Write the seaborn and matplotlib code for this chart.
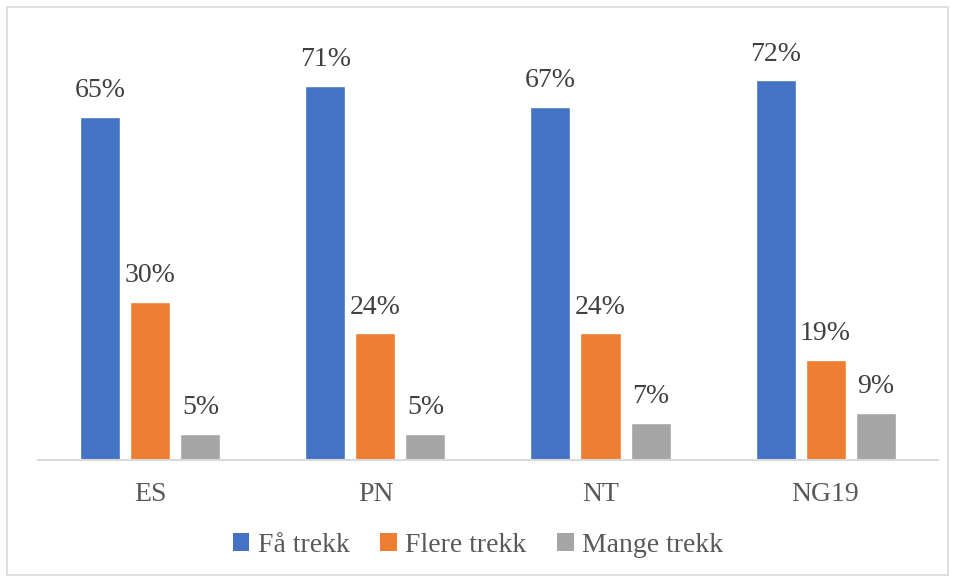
import matplotlib
matplotlib.use("Agg")
import matplotlib.pyplot as plt
import seaborn as sns
import pandas as pd
from matplotlib.patches import Rectangle, Patch

categories = ["ES", "PN", "NT", "NG19"]
series = ["Få trekk", "Flere trekk", "Mange trekk"]
fa_trekk = [65, 71, 67, 72]
flere_trekk = [30, 24, 24, 19]
mange_trekk = [5, 5, 7, 9]
colors = ["#4472C4", "#ED7D31", "#A5A5A5"]

rows = []
for name, vals in zip(series, [fa_trekk, flere_trekk, mange_trekk]):
    for cat, v in zip(categories, vals):
        rows.append({"kategori": cat, "serie": name, "andel": v})
df = pd.DataFrame(rows)

sns.set_theme(style="white")
plt.rcParams["font.family"] = ["Liberation Serif", "DejaVu Serif"]

fig = plt.figure(figsize=(9.56, 5.79), dpi=100)
ax = fig.add_axes([0.0397, 0.2055, 0.9415, 0.7285])

sns.barplot(data=df, x="kategori", y="andel", hue="serie", order=categories,
            hue_order=series, palette=colors, width=2/3, gap=0.2,
            saturation=1, ax=ax, legend=False, errorbar=None)

for container in ax.containers:
    ax.bar_label(container, labels=[f"{int(v)}%" for v in container.datavalues],
                 padding=10, fontsize=20, color="#404040")

ax.set_ylim(0, 80)
ax.set_xlim(-0.5, 3.5)
ax.set_xlabel("")
ax.set_ylabel("")
ax.set_yticks([])
ax.tick_params(axis="x", length=0, labelsize=20, labelcolor="#595959", pad=16)
for side in ["top", "left", "right"]:
    ax.spines[side].set_visible(False)
ax.spines["bottom"].set_color("#D9D9D9")
ax.spines["bottom"].set_linewidth(1.5)

handles = [Patch(facecolor=c, edgecolor="none", label=s) for c, s in zip(colors, series)]
fig.legend(handles=handles, loc="center", bbox_to_anchor=(0.5, 0.058), ncol=3,
           frameon=False, fontsize=20, handlelength=0.6, handleheight=0.6,
           handletextpad=0.3, columnspacing=1.1, labelcolor="#595959")

fig.patches.append(Rectangle((7 / 956, 4 / 579), 941 / 956, 568 / 579,
                             transform=fig.transFigure, fill=False,
                             edgecolor="#D9D9D9", linewidth=1.2))

fig.savefig("out.png", dpi=100)
